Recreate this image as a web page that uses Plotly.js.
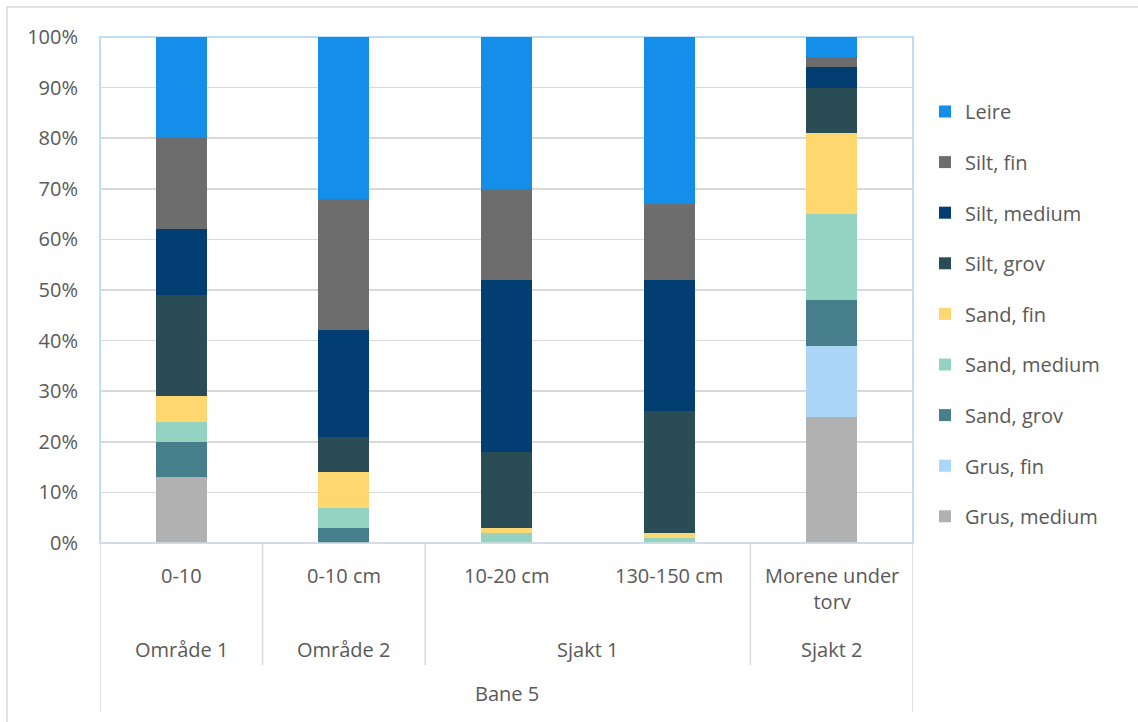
<!DOCTYPE html>
<html>
<head>
<meta charset="utf-8">
<script src="https://cdn.plot.ly/plotly-3.0.1.min.js"></script>
<style>
html,body{margin:0;padding:0;background:#fff;}
#chart{width:1138px;height:722px;}
</style>
</head>
<body>
<div id="chart"></div>
<script>
// Category axis: sample labels, their group, and the overall group
const samples = ['0-10', '0-10 cm', '10-20 cm', '130-150 cm', 'Morene under<br>torv'];
const groups  = ['Område 1', 'Område 2', 'Sjakt 1', 'Sjakt 1', 'Sjakt 2'];
const topGroup = 'Bane 5';

// Series (percent), bottom to top of stack
const seriesNames = ['Grus, medium', 'Grus, fin', 'Sand, grov', 'Sand, medium', 'Sand, fin',
                     'Silt, grov', 'Silt, medium', 'Silt, fin', 'Leire'];
const grusMedium  = [13, 0, 0, 0, 25];
const grusFin     = [0, 0, 0, 0, 14];
const sandGrov    = [7, 3, 0, 0, 9];
const sandMedium  = [4, 4, 2, 1, 17];
const sandFin     = [5, 7, 1, 1, 16];
const siltGrov    = [20, 7, 15, 24, 9];
const siltMedium  = [13, 21, 34, 26, 4];
const siltFin     = [18, 26, 18, 15, 2];
const leire       = [20, 32, 30, 33, 4];

const seriesValues = [grusMedium, grusFin, sandGrov, sandMedium, sandFin, siltGrov, siltMedium, siltFin, leire];
const colors = ['#b1b1b1', '#abd6f7', '#467f8b', '#94d2c2', '#ffd770', '#294c55', '#023e71', '#6d6d6d', '#148fe9'];

const FONT = 'Open Sans, Noto Sans, sans-serif';
const TXT = '#595959';
const LINE = '#d9d9d9';

const traces = seriesNames.map((name, i) => ({
  type: 'bar',
  name: name,
  legendgroup: name,
  legendrank: (seriesNames.length - i) * 10,
  x: samples,
  y: seriesValues[i].map(v => v === 0 ? null : v),
  marker: {color: colors[i], line: {width: 0}},
  hoverinfo: 'name+y'
}));

// plot area px: left 100, right 913, top 37, bottom 543
const L = 100, R = 913, T = 37, B = 543;
const px2x = p => (p - L) / (R - L);
const px2y = p => (B - p) / (B - T);

// Row positions (px below top of figure)
const ROW1_TOP = 560, ROW2_MID = 649, ROW3_MID = 693, DIV_END = 665, OUTER_END = 712;

const annotations = [];
// sample labels (first row)
samples.forEach((s, i) => {
  annotations.push({
    xref: 'x', yref: 'paper', x: i, y: px2y(ROW1_TOP),
    xanchor: 'center', yanchor: 'top', text: s, showarrow: false,
    font: {family: FONT, size: 20, color: TXT}
  });
});
// group labels (second row) centred on their span of categories
const spans = [];
groups.forEach((g, i) => {
  if (i === 0 || groups[i - 1] !== g) spans.push({name: g, start: i, end: i});
  else spans[spans.length - 1].end = i;
});
spans.forEach(sp => {
  annotations.push({
    xref: 'x', yref: 'paper', x: (sp.start + sp.end) / 2, y: px2y(ROW2_MID),
    xanchor: 'center', yanchor: 'middle', text: sp.name, showarrow: false,
    font: {family: FONT, size: 20, color: TXT}
  });
});
// top-level group label
annotations.push({
  xref: 'paper', yref: 'paper', x: 0.5, y: px2y(ROW3_MID),
  xanchor: 'center', yanchor: 'middle', text: topGroup, showarrow: false,
  font: {family: FONT, size: 20, color: TXT}
});

const shapes = [
  // outer chart border
  {type: 'rect', xref: 'paper', yref: 'paper', x0: px2x(7), x1: px2x(1150), y0: px2y(730), y1: px2y(7),
   line: {color: LINE, width: 1.5}, fillcolor: 'rgba(0,0,0,0)', layer: 'below'},
  // plot area border
  {type: 'rect', xref: 'paper', yref: 'paper', x0: 0, x1: 1, y0: 0, y1: 1,
   line: {color: '#a9d4f5', width: 1.5}, fillcolor: 'rgba(0,0,0,0)', layer: 'below'},
  // category axis line
  {type: 'line', xref: 'paper', yref: 'paper', x0: 0, x1: 1, y0: 0, y1: 0,
   line: {color: '#d6dce4', width: 1.5}}
];
// dividers at group boundaries (outer ones run down to the top-level row)
spans.forEach((sp, k) => {
  if (k === 0) {
    shapes.push({type: 'line', xref: 'x', yref: 'paper', x0: sp.start - 0.5, x1: sp.start - 0.5,
                 y0: 0, y1: px2y(OUTER_END), line: {color: LINE, width: 1.5}});
  }
  const isLast = k === spans.length - 1;
  shapes.push({type: 'line', xref: 'x', yref: 'paper', x0: sp.end + 0.5, x1: sp.end + 0.5,
               y0: 0, y1: px2y(isLast ? OUTER_END : DIV_END), line: {color: LINE, width: 1.5}});
});

const layout = {
  width: 1138, height: 722,
  margin: {l: L, r: 1138 - R, t: T, b: 722 - B, pad: 0},
  paper_bgcolor: '#ffffff',
  plot_bgcolor: '#ffffff',
  barmode: 'stack',
  bargap: 0.686,
  font: {family: FONT, size: 20, color: TXT},
  showlegend: true,
  legend: {
    x: px2x(925), xanchor: 'left',
    y: px2y(92), yanchor: 'top',
    traceorder: 'grouped',
    tracegroupgap: 21.6,
    font: {family: FONT, size: 20, color: TXT},
    bgcolor: 'rgba(0,0,0,0)'
  },
  xaxis: {
    type: 'category',
    range: [-0.5, samples.length - 0.5],
    showgrid: false,
    showline: false,
    showticklabels: false,
    ticks: '',
    fixedrange: true
  },
  yaxis: {
    range: [0, 100],
    dtick: 10,
    ticksuffix: '%',
    showgrid: true, gridcolor: LINE, gridwidth: 1.5,
    zeroline: false,
    showline: false,
    ticks: '',
    ticklabelstandoff: 21,
    tickfont: {family: FONT, size: 20, color: TXT},
    fixedrange: true
  },
  annotations: annotations,
  shapes: shapes
};

Plotly.newPlot('chart', traces, layout, {displayModeBar: false, staticPlot: true});
</script>
</body>
</html>
